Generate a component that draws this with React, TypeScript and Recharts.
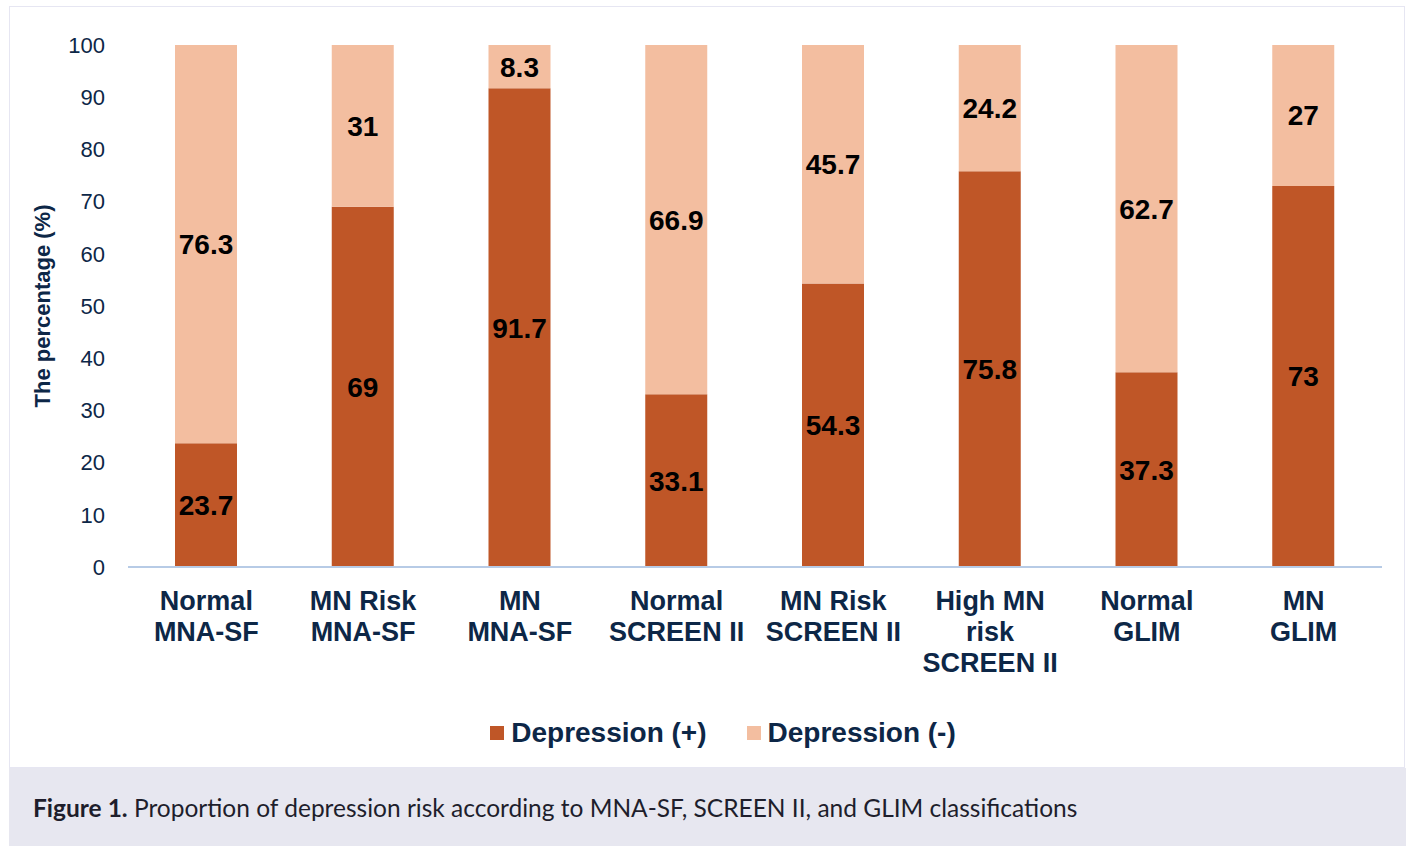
import { BarChart, Bar, XAxis, YAxis, Legend, LabelList } from "recharts";

const categories = [
  ["Normal", "MNA-SF"],
  ["MN Risk", "MNA-SF"],
  ["MN", "MNA-SF"],
  ["Normal", "SCREEN II"],
  ["MN Risk", "SCREEN II"],
  ["High MN", "risk", "SCREEN II"],
  ["Normal", "GLIM"],
  ["MN", "GLIM"],
];
const depressionPos = [23.7, 69, 91.7, 33.1, 54.3, 75.8, 37.3, 73];
const depressionNeg = [76.3, 31, 8.3, 66.9, 45.7, 24.2, 62.7, 27];
const yTicks = [0, 10, 20, 30, 40, 50, 60, 70, 80, 90, 100];

const data = categories.map((c, i) => ({
  name: c.join(" "),
  lines: c,
  pos: depressionPos[i],
  neg: depressionNeg[i],
}));

const NAVY = "#0d2747";
const DARK = "#bf5627";
const LIGHT = "#f3bea0";
const FONT = "Liberation Sans, Arial, sans-serif";

function CatTick(props: any) {
  const { x, y, index } = props;
  const lines = data[index]?.lines ?? [];
  return (
    <text x={x} y={y} textAnchor="middle" fill={NAVY} fontSize={27} fontWeight="bold" fontFamily={FONT}>
      {lines.map((l: string, i: number) => (
        <tspan key={i} x={x} dy={i === 0 ? 43 : 31}>
          {l}
        </tspan>
      ))}
    </text>
  );
}

function LegendBox() {
  const items = [
    { label: "Depression (+)", color: DARK },
    { label: "Depression (-)", color: LIGHT },
  ];
  return (
    <div style={{ display: "flex", justifyContent: "center", gap: 40, height: 40, alignItems: "center", paddingLeft: 64 }}>
      {items.map((it) => (
        <div key={it.label} style={{ display: "flex", alignItems: "center", gap: 7 }}>
          <span style={{ width: 14, height: 14, background: it.color, display: "inline-block" }} />
          <span style={{ fontFamily: FONT, fontWeight: "bold", fontSize: 28, color: NAVY }}>{it.label}</span>
        </div>
      ))}
    </div>
  );
}

export default function App() {
  return (
    <div style={{ position: "absolute", left: 0, top: 0, width: 1412, height: 846, background: "#fff" }}>
      <div
        style={{
          position: "absolute",
          left: 9,
          top: 6,
          width: 1396,
          height: 762,
          border: "1px solid #e6e6f2",
          boxSizing: "border-box",
        }}
      />
      <div style={{ position: "absolute", left: 0, top: 0 }}>
        <BarChart
          width={1412}
          height={768}
          data={data}
          margin={{ top: 45, right: 30, left: 0, bottom: 15 }}
          barSize={62}
        >
          <YAxis
            type="number"
            domain={[0, 100]}
            ticks={yTicks}
            width={128}
            axisLine={false}
            tickLine={false}
            tickSize={0}
            tickMargin={23}
            tick={{ fill: NAVY, fontSize: 22, fontFamily: FONT }}
            label={{
              value: "The percentage (%)",
              angle: -90,
              position: "insideLeft",
              offset: 42,
              style: { fill: NAVY, fontSize: 22, fontWeight: "bold", fontFamily: FONT, textAnchor: "middle" },
            }}
          />
          <XAxis
            dataKey="name"
            height={146}
            interval={0}
            tickLine={false}
            tickSize={0}
            tickMargin={0}
            axisLine={{ stroke: "#b7cbe6", strokeWidth: 2 }}
            tick={<CatTick />}
          />
          <Legend verticalAlign="bottom" height={40} content={<LegendBox />} />
          <Bar dataKey="pos" stackId="a" fill={DARK} isAnimationActive={false}>
            <LabelList dataKey="pos" position="center" fill="#000" fontSize={28} fontWeight="bold" fontFamily={FONT} />
          </Bar>
          <Bar dataKey="neg" stackId="a" fill={LIGHT} isAnimationActive={false}>
            <LabelList dataKey="neg" position="center" fill="#000" fontSize={28} fontWeight="bold" fontFamily={FONT} />
          </Bar>
        </BarChart>
      </div>
      <div
        style={{
          position: "absolute",
          left: 9,
          top: 768,
          width: 1397,
          height: 78,
          background: "#e7e7f0",
          display: "flex",
          alignItems: "center",
          paddingLeft: 24,
          boxSizing: "border-box",
          fontFamily: "Lato, 'Noto Sans', sans-serif",
          fontSize: 24.5,
          color: "#1e1e2c",
        }}
      >
        <span>
          <b>Figure 1.</b> Proportion of depression risk according to MNA-SF, SCREEN II, and GLIM classifications
        </span>
      </div>
    </div>
  );
}
